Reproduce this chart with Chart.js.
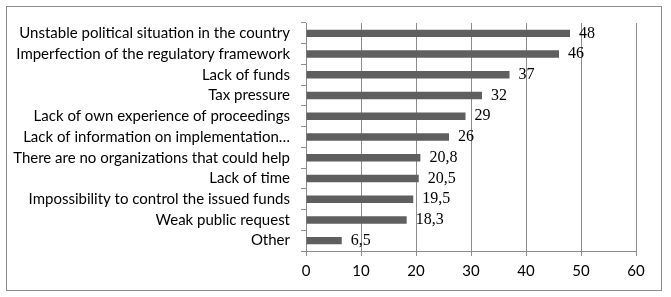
<!DOCTYPE html>
<html>
<head>
<meta charset="utf-8">
<script src="https://cdn.jsdelivr.net/npm/chart.js@4"></script>
<style>
  html, body { margin: 0; padding: 0; background: #fff; }
  #wrap { position: relative; width: 671px; height: 297px; }
  #frame { position: absolute; left: 6px; top: 6px; width: 656px; height: 285px; border: 1px solid #8c8c8c; box-sizing: border-box; pointer-events: none; }
  canvas { position: absolute; left: 0; top: 0; }
</style>
</head>
<body>
<div id="wrap">
  <canvas id="chart" width="671" height="297"></canvas>
  <div id="frame"></div>
</div>
<script>
// Obstacles and their shares, in percent
const categories = [
  'Unstable political situation in the country',
  'Imperfection of the regulatory framework',
  'Lack of funds',
  'Tax pressure',
  'Lack of own experience of proceedings',
  'Lack of information on implementation…',
  'There are no organizations that could help',
  'Lack of time',
  'Impossibility to control the issued funds',
  'Weak public request',
  'Other'
];
const values = [48, 46, 37, 32, 29, 26, 20.8, 20.5, 19.5, 18.3, 6.5];
const valueLabels = ['48', '46', '37', '32', '29', '26', '20,8', '20,5', '19,5', '18,3', '6,5'];
const xTicks = [0, 10, 20, 30, 40, 50, 60];

// Writes each value just past the end of its bar
const valueLabelPlugin = {
  id: 'valueLabels',
  afterDatasetsDraw(chart) {
    const ctx = chart.ctx;
    const meta = chart.getDatasetMeta(0);
    ctx.save();
    ctx.font = '16px "Liberation Serif", "Times New Roman", serif';
    ctx.fillStyle = '#000';
    ctx.textAlign = 'left';
    ctx.textBaseline = 'middle';
    meta.data.forEach((bar, i) => {
      ctx.fillText(valueLabels[i], bar.x + 9, bar.y);
    });
    ctx.restore();
  }
};

new Chart(document.getElementById('chart'), {
  type: 'bar',
  data: {
    labels: categories,
    datasets: [{
      data: values,
      backgroundColor: '#5f5f5f',
      borderWidth: 0,
      barPercentage: 0.36,
      categoryPercentage: 1
    }]
  },
  options: {
    indexAxis: 'y',
    responsive: false,
    animation: false,
    devicePixelRatio: 1,
    layout: { padding: { left: 0, top: 23, right: 35, bottom: 0 } },
    plugins: { legend: { display: false }, tooltip: { enabled: false } },
    scales: {
      x: {
        min: 0,
        max: 60,
        afterBuildTicks(scale) { scale.ticks = xTicks.map(v => ({ value: v })); },
        afterFit(scale) { scale.height = 46; },
        grid: {
          color: '#8c8c8c',
          lineWidth: 1,
          drawOnChartArea: true,
          drawTicks: true,
          tickLength: 5
        },
        border: { display: true, color: '#8c8c8c' },
        ticks: {
          color: '#000',
          font: { family: 'Lato, "Liberation Sans", sans-serif', size: 15 },
          padding: 6
        }
      },
      y: {
        afterFit(scale) { scale.width = 306; },
        grid: {
          offset: true,
          drawOnChartArea: false,
          drawTicks: true,
          tickLength: 5,
          color: '#8c8c8c'
        },
        border: { display: true, color: '#8c8c8c' },
        ticks: {
          color: '#000',
          autoSkip: false,
          font: { family: 'Lato, "Liberation Sans", sans-serif', size: 15 },
          padding: 11
        }
      }
    }
  },
  plugins: [valueLabelPlugin]
});
</script>
</body>
</html>
